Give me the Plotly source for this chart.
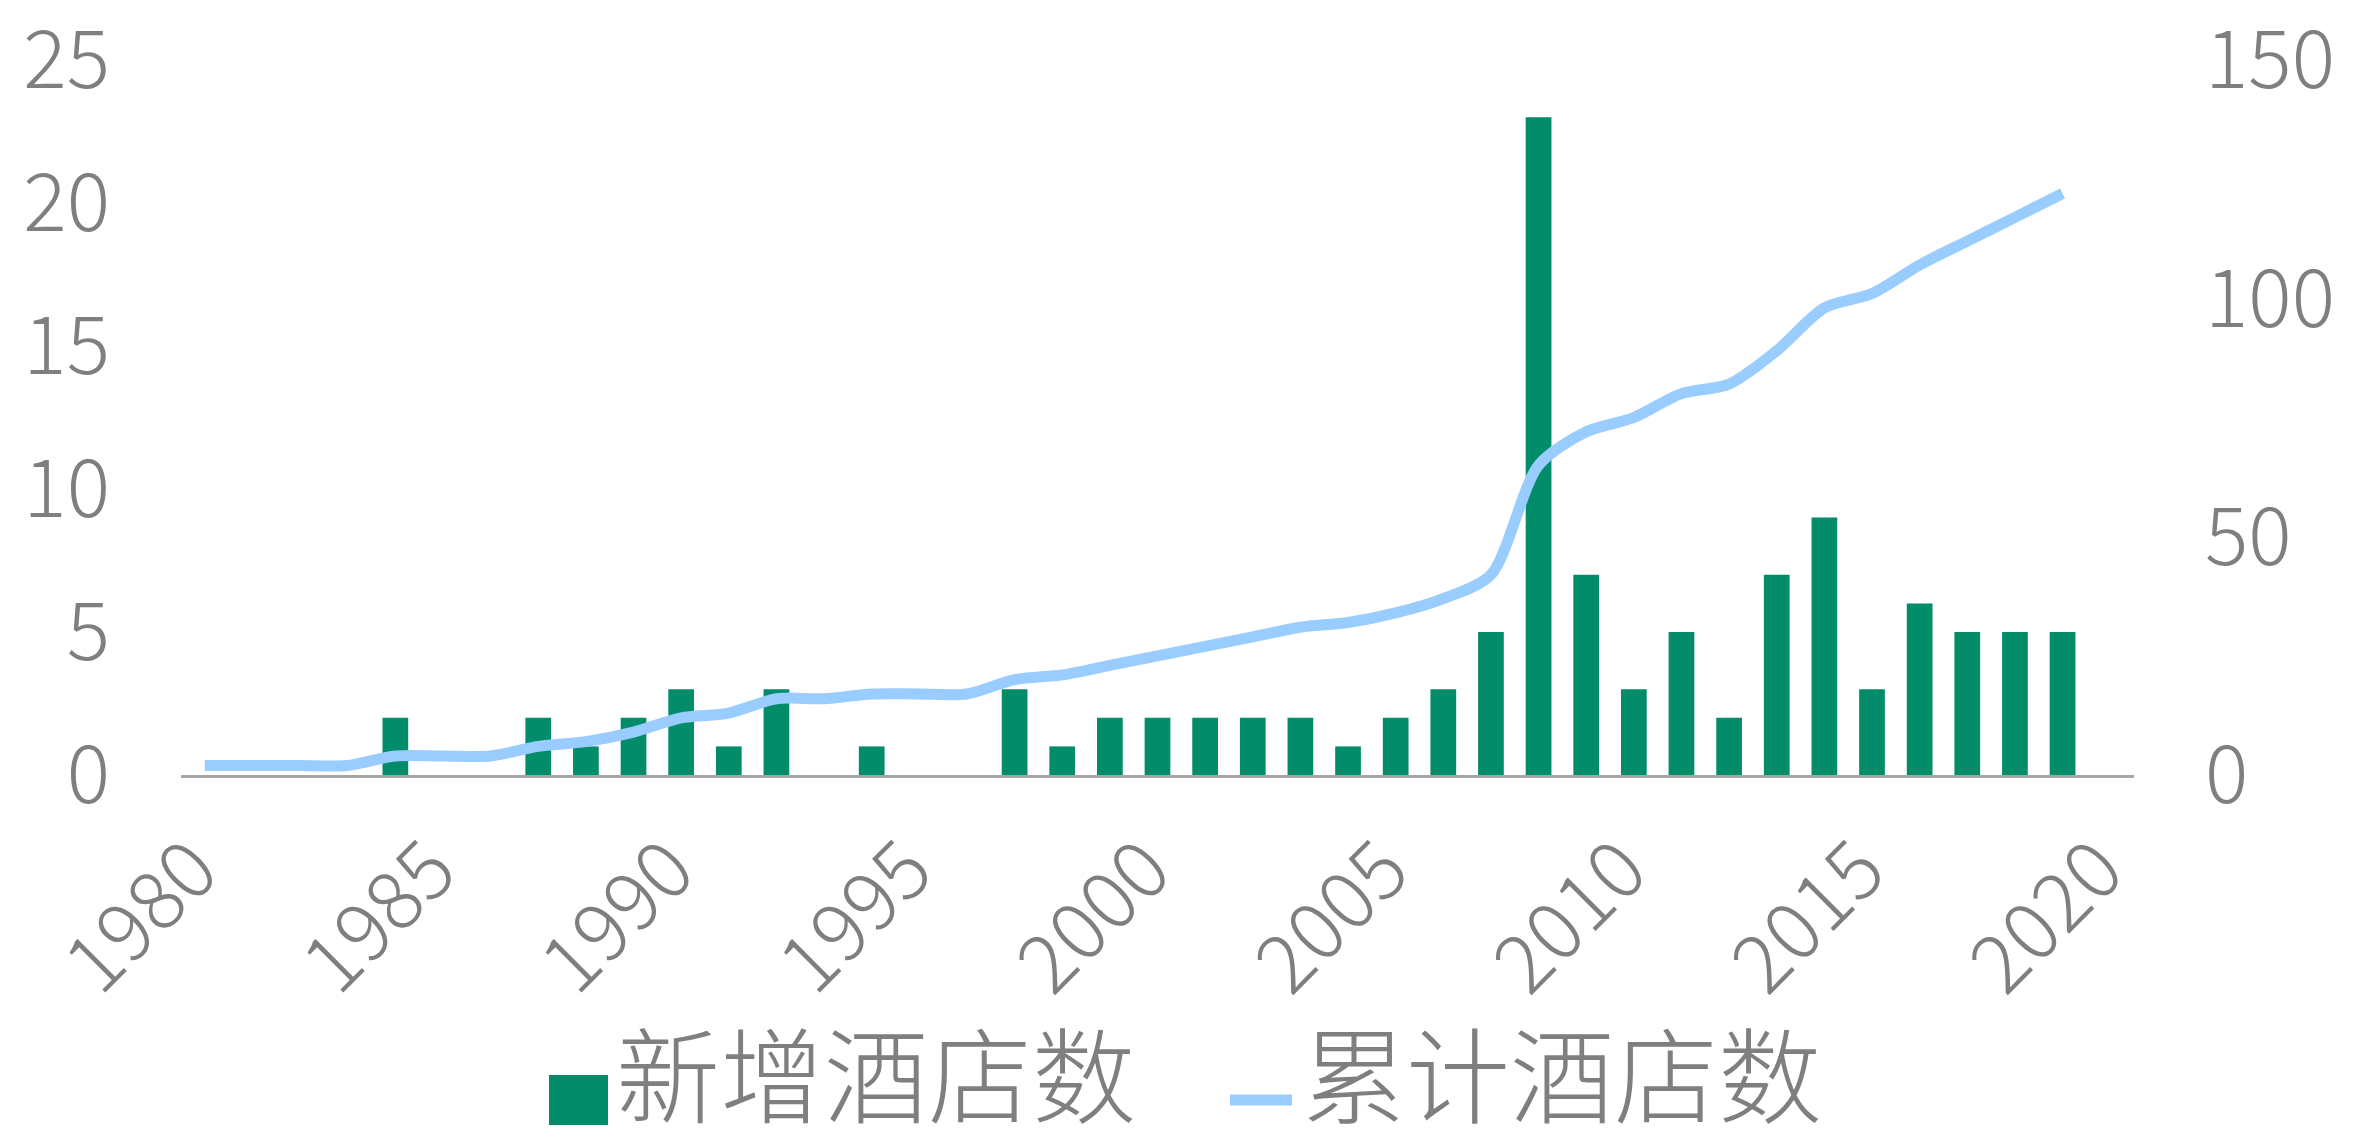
import plotly.graph_objects as go

# ---- data ----
years = list(range(1980, 2020))
new_hotels = [0, 0, 0, 0, 2, 0, 0, 2, 1, 2,
              3, 1, 3, 0, 1, 0, 0, 3, 1, 2,
              2, 2, 2, 2, 1, 2, 3, 5, 23, 7,
              3, 5, 2, 7, 9, 3, 6, 5, 5, 5]
cumulative = [2, 2, 2, 2, 4, 4, 4, 6, 7, 9,
              12, 13, 16, 16, 17, 17, 17, 20, 21, 23,
              25, 27, 29, 31, 32, 34, 37, 42, 65, 72,
              75, 80, 82, 89, 98, 101, 107, 112, 117, 122]
series_names = ["新增酒店数", "累计酒店数"]
left_ticks = [0, 5, 10, 15, 20, 25]
right_ticks = [0, 50, 100, 150]
x_ticks = [1980, 1985, 1990, 1995, 2000, 2005, 2010, 2015, 2020]

# ---- style ----
W, H = 2362, 1148
ML, MR, MT, MB = 181, 228, 60, 373
BAR_COLOR = "#038C6A"
LINE_COLOR = "#99CCFF"
TEXT_COLOR = "#7F7F7F"
FONT = "Noto Sans CJK SC"

fig = go.Figure()
fig.add_trace(go.Bar(x=years, y=new_hotels, name=series_names[0],
                     marker=dict(color=BAR_COLOR, line=dict(width=0)),
                     yaxis="y", showlegend=False))
fig.add_trace(go.Scatter(x=years, y=cumulative, name=series_names[1],
                         mode="lines", line=dict(color=LINE_COLOR, width=11, shape="spline", smoothing=0.8),
                         yaxis="y2", showlegend=False))

tick_font = dict(family=FONT, size=81, color=TEXT_COLOR, weight=300)

fig.update_layout(
    width=W, height=H, autosize=False,
    margin=dict(l=ML, r=MR, t=MT, b=MB, autoexpand=False),
    paper_bgcolor="white", plot_bgcolor="white",
    bargap=0.46,
    font=dict(family=FONT, color=TEXT_COLOR),
    xaxis=dict(range=[1979.5, 2020.5], tickmode="array", tickvals=x_ticks,
               ticktext=[str(v) for v in x_ticks], tickangle=-45,
               tickfont=tick_font, showgrid=False, zeroline=False,
               showline=True, linecolor="#A6A6A6", linewidth=2.5, ticks="",
               ticklabelstandoff=12, ticklabelshift=-11,
               ticklabeloverflow="allow", automargin=False),
    yaxis=dict(range=[0, 25], tickmode="array", tickvals=left_ticks,
               ticktext=[str(v) for v in left_ticks], tickfont=tick_font,
               showgrid=False, zeroline=False, showline=False, ticks="",
               ticklabelstandoff=70, ticklabeloverflow="allow",
               automargin=False),
    yaxis2=dict(range=[0, 150], tickmode="array", tickvals=right_ticks,
                ticktext=[str(v) for v in right_ticks], tickfont=tick_font,
                overlaying="y", side="right", showgrid=False, zeroline=False,
                showline=False, ticks="", ticklabelstandoff=70,
                ticklabeloverflow="allow", automargin=False),
)

# ---- custom legend (pixel layout converted to paper coords) ----
PW = W - ML - MR
PH = H - MT - MB
def px(x):
    return (x - ML) / PW
def py(y):
    return (H - MB - y) / PH

leg_y = 1100
fig.add_shape(type="rect", xref="paper", yref="paper",
              x0=px(549), x1=px(608), y0=py(leg_y + 25), y1=py(leg_y - 25),
              fillcolor=BAR_COLOR, line=dict(width=0))
fig.add_annotation(xref="paper", yref="paper", x=px(614), y=py(H),
                   xanchor="left", yanchor="bottom", showarrow=False,
                   text=series_names[0],
                   font=dict(family=FONT, size=104, color=TEXT_COLOR, weight=300))
fig.add_shape(type="line", xref="paper", yref="paper",
              x0=px(1230), x1=px(1292), y0=py(leg_y), y1=py(leg_y),
              line=dict(color=LINE_COLOR, width=11))
fig.add_annotation(xref="paper", yref="paper", x=px(1300), y=py(H),
                   xanchor="left", yanchor="bottom", showarrow=False,
                   text=series_names[1],
                   font=dict(family=FONT, size=104, color=TEXT_COLOR, weight=300))

fig.write_html("out.html", config={"displayModeBar": False},
               post_script="document.body.style.margin='0';")
